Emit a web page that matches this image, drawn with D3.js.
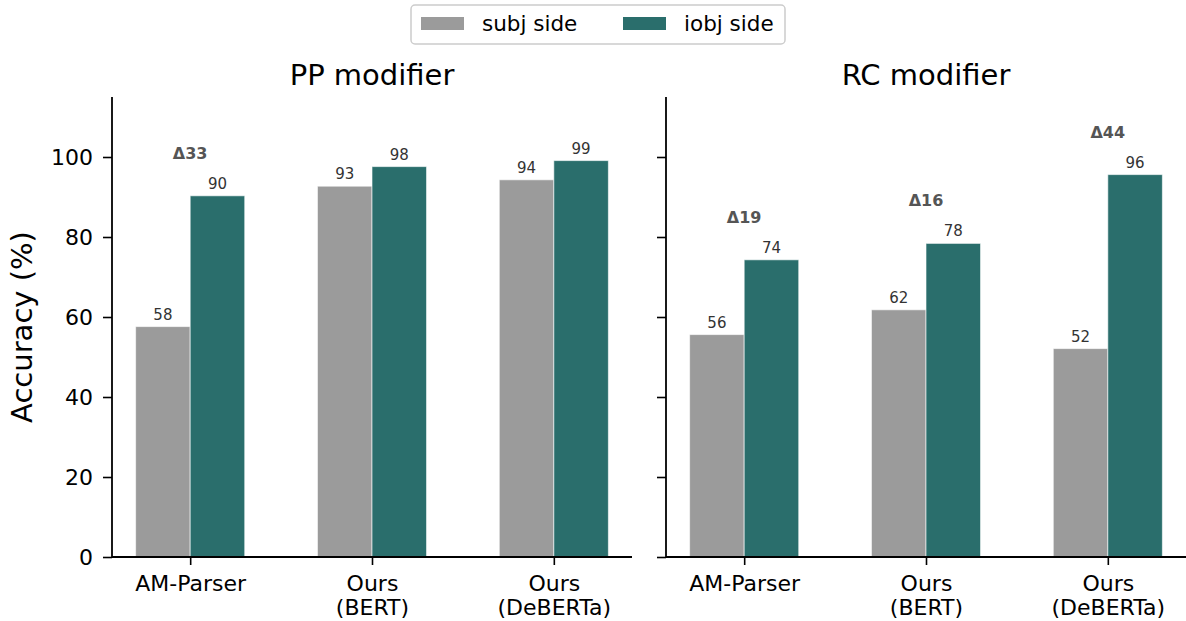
<!DOCTYPE html>
<html>
<head>
<meta charset="utf-8">
<script src="https://cdn.jsdelivr.net/npm/d3@7"></script>
<style>
  body { margin: 0; background: #fff; }
  text { font-family: "DejaVu Sans", sans-serif; }
</style>
</head>
<body>
<svg id="chart" width="1186" height="621"></svg>
<script>
// data
const categories = ["AM-Parser", "Ours\n(BERT)", "Ours\n(DeBERTa)"];
const panels = ["PP modifier", "RC modifier"];
const seriesNames = ["subj side", "iobj side"];
const ppSubj = [57.6, 92.7, 94.3];
const ppIobj = [90.3, 97.6, 99.1];
const rcSubj = [55.6, 61.8, 52.1];
const rcIobj = [74.3, 78.4, 95.6];
const ppDelta = ["Δ33", null, null];
const rcDelta = ["Δ19", "Δ16", "Δ44"];
const valueLabels = {
  pp: [["58", "93", "94"], ["90", "98", "99"]],
  rc: [["56", "62", "52"], ["74", "78", "96"]]
};
const yTicks = [0, 20, 40, 60, 80, 100];

const colors = ["#9b9b9b", "#2a6e6c"];
const barWidth = 0.3;

const svg = d3.select("#chart");
const plotTop = 97, plotBottom = 557;

const y = d3.scaleLinear().domain([0, 115]).range([plotBottom, plotTop]);

const panelDefs = [
  { title: panels[0], left: 112, right: 632, subj: ppSubj, iobj: ppIobj, delta: ppDelta, labels: valueLabels.pp, showY: true },
  { title: panels[1], left: 666, right: 1186, subj: rcSubj, iobj: rcIobj, delta: rcDelta, labels: valueLabels.rc, showY: false }
];

panelDefs.forEach(p => {
  const x = d3.scaleLinear().domain([-0.43, 2.43]).range([p.left, p.right]);
  const g = svg.append("g");

  // bars
  [p.subj, p.iobj].forEach((vals, s) => {
    const xOff = s === 0 ? -barWidth : 0;
    g.selectAll(null)
      .data(vals)
      .enter()
      .append("rect")
      .attr("x", (d, i) => x(i + xOff))
      .attr("width", x(barWidth) - x(0))
      .attr("y", d => y(d))
      .attr("height", d => y(0) - y(d))
      .attr("fill", colors[s])
      .attr("stroke", "#ffffff")
      .attr("stroke-opacity", 0.6)
      .attr("stroke-width", 1);

    g.selectAll(null)
      .data(vals)
      .enter()
      .append("text")
      .attr("x", (d, i) => x(i + xOff + barWidth / 2))
      .attr("y", d => y(d) - 7)
      .attr("text-anchor", "middle")
      .attr("font-size", 15)
      .attr("fill", "#333")
      .text((d, i) => p.labels[s][i]);
  });

  // delta labels
  g.selectAll(null)
    .data(p.delta.map((t, i) => ({ t, i, v: Math.max(p.subj[i], p.iobj[i]) })).filter(d => d.t))
    .enter()
    .append("text")
    .attr("x", d => x(d.i))
    .attr("y", d => y(d.v) - 37)
    .attr("text-anchor", "middle")
    .attr("font-size", 16)
    .attr("font-weight", "bold")
    .attr("fill", "#555")
    .text(d => d.t);

  // y axis
  const yAxis = g.append("g")
    .attr("transform", `translate(${p.left},0)`)
    .call(d3.axisLeft(y).tickValues(yTicks).tickSize(9).tickPadding(10)
      .tickFormat(p.showY ? d3.format("d") : () => ""));
  yAxis.select(".domain").attr("d", `M0,${plotTop}V${plotBottom}`).attr("stroke-width", 1.8);
  yAxis.selectAll(".tick line").attr("stroke-width", 1.6);
  yAxis.selectAll("text").attr("font-size", 22).attr("fill", "#000");

  // x axis
  const xAxis = g.append("g")
    .attr("transform", `translate(0,${plotBottom})`)
    .call(d3.axisBottom(x).tickValues([0, 1, 2]).tickSize(8).tickFormat(""));
  xAxis.select(".domain").attr("d", `M${p.left},0H${p.right}`).attr("stroke-width", 1.8);
  xAxis.selectAll(".tick line").attr("stroke-width", 1.6);
  xAxis.selectAll(".tick").each(function(d) {
    const t = d3.select(this).append("text")
      .attr("text-anchor", "middle")
      .attr("font-size", 22)
      .attr("fill", "#000");
    categories[d].split("\n").forEach((line, k) => {
      t.append("tspan").attr("x", 0).attr("y", 34 + k * 24).text(line);
    });
  });

  // title
  svg.append("text")
    .attr("x", (p.left + p.right) / 2)
    .attr("y", 85)
    .attr("text-anchor", "middle")
    .attr("font-size", 29)
    .attr("fill", "#000")
    .text(p.title);
});

// y label
svg.append("text")
  .attr("transform", `translate(32,${(plotTop + plotBottom) / 2}) rotate(-90)`)
  .attr("text-anchor", "middle")
  .attr("font-size", 29)
  .attr("fill", "#000")
  .text("Accuracy (%)");

// legend
const legend = svg.append("g");
legend.append("rect")
  .attr("x", 411).attr("y", 5).attr("width", 374).attr("height", 39)
  .attr("rx", 4).attr("fill", "#fff").attr("stroke", "#cccccc").attr("stroke-width", 1.5);
const legendX = [421, 623];
seriesNames.forEach((name, i) => {
  legend.append("rect")
    .attr("x", legendX[i]).attr("y", 17).attr("width", 43).attr("height", 13)
    .attr("fill", colors[i]);
  legend.append("text")
    .attr("x", legendX[i] + 61).attr("y", 31)
    .attr("font-size", 21.5).attr("fill", "#000")
    .text(name);
});
</script>
</body>
</html>
